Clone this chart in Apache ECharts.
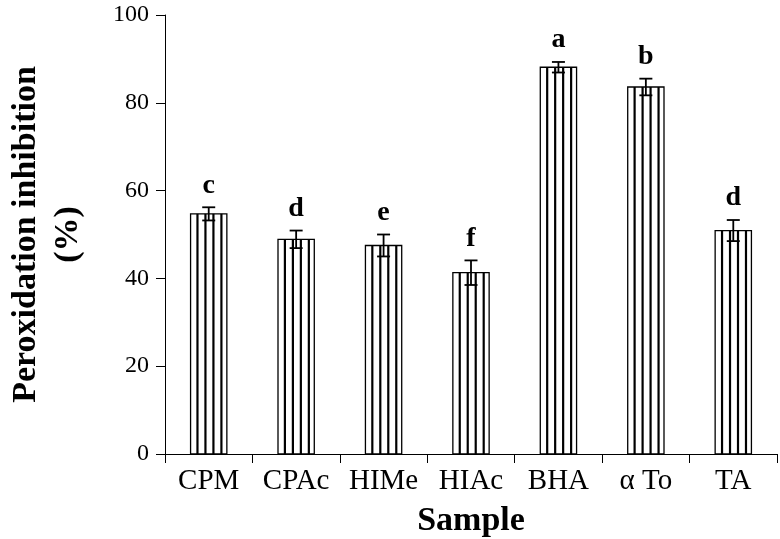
<!DOCTYPE html>
<html>
<head>
<meta charset="utf-8">
<script src="https://cdn.jsdelivr.net/npm/echarts@6/dist/echarts.min.js"></script>
<style>html,body{margin:0;padding:0;background:#fff;}#c{width:780px;height:539px;}</style>
</head>
<body>
<div id="c"></div>
<script>
const categories = ['CPM', 'CPAc', 'HIMe', 'HIAc', 'BHA', 'α To', 'TA'];
const values = [54.7, 48.9, 47.5, 41.3, 88.1, 83.6, 50.9];
const errors = [1.5, 2.0, 2.5, 2.8, 1.2, 1.9, 2.4];
const letters = ['c', 'd', 'e', 'f', 'a', 'b', 'd'];
const yTicks = [0, 20, 40, 60, 80, 100];

const FONT = '"Liberation Serif", "Times New Roman", serif';
const data = categories.map((c, i) => [i, values[i], errors[i]]);

const chart = echarts.init(document.getElementById('c'), null, {renderer: 'canvas'});
chart.setOption({
  backgroundColor: '#fff',
  animation: false,
  grid: {left: 165, right: 3, top: 15, bottom: 85, containLabel: false, outerBoundsMode: 'none'},
  xAxis: {
    type: 'category',
    data: categories,
    boundaryGap: true,
    axisLine: {lineStyle: {color: '#000', width: 1}},
    axisTick: {show: true, interval: 0, length: 9, lineStyle: {color: '#000', width: 1}},
    axisLabel: {color: '#000', fontFamily: FONT, fontSize: 29, margin: 13, interval: 0, hideOverlap: false},
    name: 'Sample',
    nameLocation: 'middle',
    nameGap: 50,
    nameMoveOverlap: false,
    nameTextStyle: {color: '#000', fontFamily: FONT, fontSize: 34, fontWeight: 'bold'}
  },
  yAxis: {
    type: 'value',
    min: yTicks[0],
    max: yTicks[yTicks.length - 1],
    interval: 20,
    splitLine: {show: false},
    axisLine: {show: true, lineStyle: {color: '#000', width: 1}},
    axisTick: {show: true, length: 9, lineStyle: {color: '#000', width: 1}},
    axisLabel: {color: '#000', fontFamily: FONT, fontSize: 24, margin: 16},
    name: 'Peroxidation inhibition\n(%)',
    nameLocation: 'middle',
    nameRotate: 90,
    nameGap: 76,
    nameMoveOverlap: false,
    nameTextStyle: {color: '#000', fontFamily: FONT, fontSize: 34, fontWeight: 'bold', lineHeight: 42, align: 'center'}
  },
  series: [{
    type: 'custom',
    data: data,
    encode: {x: 0, y: 1},
    renderItem: function (params, api) {
      const xi = api.value(0);
      const v = api.value(1);
      const e = api.value(2);
      const letter = letters[params.dataIndex];
      const top = api.coord([xi, v]);
      const base = api.coord([xi, 0]);
      const band = api.size([1, 0])[0];
      const w = band * 0.415;
      const x0 = top[0] - w / 2;
      const children = [];
      children.push({
        type: 'rect',
        shape: {x: x0, y: top[1], width: w, height: base[1] - top[1]},
        style: {fill: '#fff', stroke: '#000', lineWidth: 1.3}
      });
      const fr = [0.19, 0.41, 0.63, 0.85];
      fr.forEach(f => {
        const lx = x0 + w * f;
        children.push({
          type: 'line',
          shape: {x1: lx, y1: top[1], x2: lx, y2: base[1]},
          style: {stroke: '#000', lineWidth: 2.2}
        });
      });
      const eh = api.coord([xi, v + e]);
      const el = api.coord([xi, v - e]);
      const cap = 13;
      children.push({type: 'line', shape: {x1: top[0], y1: eh[1], x2: top[0], y2: el[1]}, style: {stroke: '#000', lineWidth: 1.8}});
      children.push({type: 'line', shape: {x1: top[0] - cap / 2, y1: eh[1], x2: top[0] + cap / 2, y2: eh[1]}, style: {stroke: '#000', lineWidth: 1.8}});
      children.push({type: 'line', shape: {x1: top[0] - cap / 2, y1: el[1], x2: top[0] + cap / 2, y2: el[1]}, style: {stroke: '#000', lineWidth: 1.8}});
      children.push({
        type: 'text',
        style: {
          text: letter, x: top[0], y: eh[1] - 8,
          align: 'center', verticalAlign: 'bottom',
          fill: '#000', font: 'bold 28px ' + FONT
        }
      });
      return {type: 'group', children: children};
    }
  }]
});
</script>
</body>
</html>
